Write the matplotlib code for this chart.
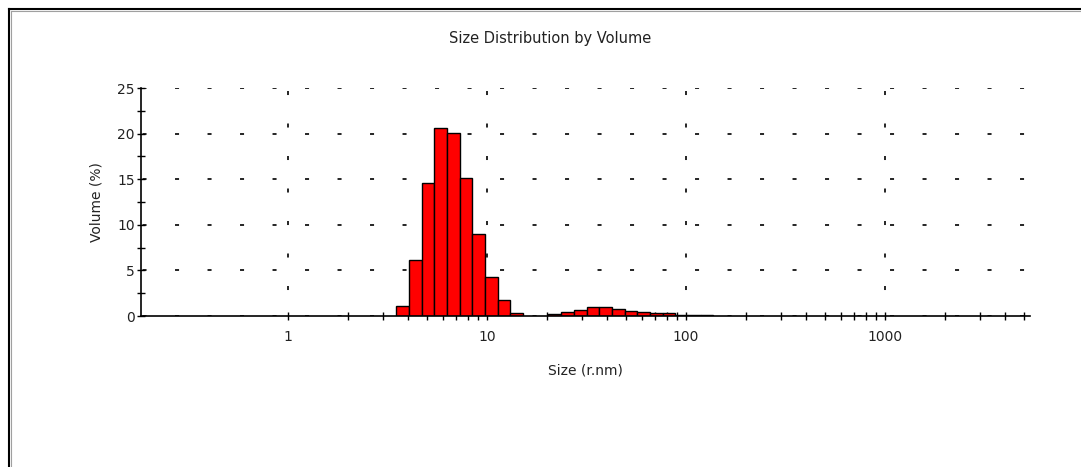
import matplotlib
matplotlib.use('Agg')
import matplotlib.pyplot as plt
from matplotlib.lines import Line2D
from matplotlib.ticker import FixedLocator, MultipleLocator, NullFormatter
import numpy as np

plt.rcParams['font.family'] = ['DejaVu Sans']
plt.rcParams['lines.scale_dashes'] = False

# size classes (radius, nm) and volume (%)
size_classes = [3.766, 4.361, 5.05, 5.85, 6.77, 7.845, 9.085, 10.52, 12.18, 14.1,
                16.34, 18.92, 21.91, 25.38, 29.39, 34.03, 39.41, 45.64, 52.85,
                61.2, 70.9, 82.1, 95.05, 110.1, 127.5]
volume = [1.1, 6.1, 14.6, 20.6, 20.1, 15.1, 9.0, 4.3, 1.7, 0.35,
          0.0, 0.0, 0.25, 0.45, 0.7, 0.95, 0.95, 0.72, 0.5,
          0.45, 0.3, 0.28, 0.15, 0.1, 0.08]

major_ticks = [1, 10, 100, 1000]
major_labels = ['1', '10', '100', '1000']

W, H = 1081, 467
fig = plt.figure(figsize=(W / 100, H / 100), dpi=100)
fig.patch.set_facecolor('white')

# axes placed by pixel box of the original
ax = fig.add_axes([141 / W, (H - 316) / H, 889 / W, 228 / H])

sizes = np.array(size_classes)
vol = np.array(volume)
half = np.log10(sizes[1] / sizes[0]) / 2
left = sizes * 10 ** -half
width = sizes * (10 ** half - 10 ** -half)
keep = vol > 0
ax.bar(left[keep], vol[keep], width=width[keep], align='edge',
       color='#ff0000', edgecolor='black', linewidth=1.0, zorder=3)

ax.set_xscale('log')
ax.set_xlim(0.1825, 5353)
ax.set_ylim(0, 25)

ax.xaxis.set_major_locator(FixedLocator(major_ticks))
ax.set_xticklabels(major_labels)
minor = [m * d for d in [1, 10, 100, 1000] for m in range(2, 10) if m * d <= 5000]
ax.xaxis.set_minor_locator(FixedLocator(minor))
ax.xaxis.set_minor_formatter(NullFormatter())
ax.yaxis.set_major_locator(MultipleLocator(5))
ax.yaxis.set_minor_locator(MultipleLocator(2.5))

for s in ['top', 'right']:
    ax.spines[s].set_visible(False)
for s in ['left', 'bottom']:
    ax.spines[s].set_linewidth(1.2)
    ax.spines[s].set_zorder(4)

ax.tick_params(which='both', direction='inout', length=6, width=1.0,
               colors='black', labelsize=10, labelcolor='#222222')
ax.tick_params(axis='x', which='both', pad=7)
ax.tick_params(axis='y', which='both', pad=1.5)

ax.set_axisbelow(True)
ax.xaxis.grid(True, which='major', color='black', linewidth=1.2,
              linestyle=(4.7, (2.9, 20.5)))
ax.yaxis.grid(True, which='major', color='black', linewidth=1.2,
              linestyle=(22.3, (2.9, 20.5)))

ax.set_xlabel('Size (r.nm)', fontsize=10, color='#222222')
ax.set_ylabel('Volume (%)', fontsize=10, color='#222222')
ax.xaxis.set_label_coords(0.5, (316 - 363) / 228)
ax.yaxis.set_label_coords((103 - 141) / 889, 0.5)

fig.text(550 / W, 1 - 38 / H, 'Size Distribution by Volume', fontsize=10.5,
         ha='center', va='center', color='#222222')

# outer frame, top and left edges only
fig.add_artist(Line2D([8.5 / W, 1], [1 - 8.5 / H] * 2, transform=fig.transFigure,
                      color='black', lw=1.5))
fig.add_artist(Line2D([8.5 / W] * 2, [0, 1 - 8.5 / H], transform=fig.transFigure,
                      color='black', lw=1.5))
fig.add_artist(Line2D([10.5 / W, 1], [1 - 10.5 / H] * 2, transform=fig.transFigure,
                      color='#a0a0a0', lw=0.8))
fig.add_artist(Line2D([10.5 / W] * 2, [0, 1 - 10.5 / H], transform=fig.transFigure,
                      color='#a0a0a0', lw=0.8))

fig.savefig('out.png', dpi=100)
